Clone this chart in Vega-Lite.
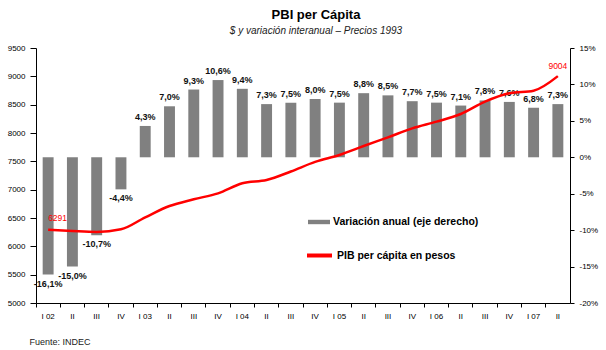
{
  "$schema": "https://vega.github.io/schema/vega-lite/v6.json",
  "autosize": {"type": "none"},
  "padding": {"left": 36, "top": 48, "right": 36, "bottom": 47},
  "width": 534,
  "height": 255,
  "background": "white",
  "title": {
    "text": "PBI per Cápita",
    "subtitle": "$ y variación interanual – Precios 1993",
    "font": "Liberation Sans",
    "fontSize": 13,
    "fontWeight": "bold",
    "color": "black",
    "subtitleFont": "Liberation Sans",
    "subtitleFontSize": 10,
    "subtitleFontStyle": "italic",
    "subtitleColor": "#222222",
    "subtitlePadding": 4,
    "anchor": "middle",
    "dx": 13,
    "offset": 8
  },
  "data": {
    "values": [
      {"t": "I 02", "v": -16.1, "lab": "-16,1%", "pib": 6291},
      {"t": "II 02", "v": -15.0, "lab": "-15,0%", "pib": 6270},
      {"t": "III 02", "v": -10.7, "lab": "-10,7%", "pib": 6255},
      {"t": "IV 02", "v": -4.4, "lab": "-4,4%", "pib": 6300},
      {"t": "I 03", "v": 4.3, "lab": "4,3%", "pib": 6512},
      {"t": "II 03", "v": 7.0, "lab": "7,0%", "pib": 6712},
      {"t": "III 03", "v": 9.3, "lab": "9,3%", "pib": 6830},
      {"t": "IV 03", "v": 10.6, "lab": "10,6%", "pib": 6935},
      {"t": "I 04", "v": 9.4, "lab": "9,4%", "pib": 7112},
      {"t": "II 04", "v": 7.3, "lab": "7,3%", "pib": 7170},
      {"t": "III 04", "v": 7.5, "lab": "7,5%", "pib": 7320},
      {"t": "IV 04", "v": 8.0, "lab": "8,0%", "pib": 7490},
      {"t": "I 05", "v": 7.5, "lab": "7,5%", "pib": 7612},
      {"t": "II 05", "v": 8.8, "lab": "8,8%", "pib": 7770},
      {"t": "III 05", "v": 8.5, "lab": "8,5%", "pib": 7924},
      {"t": "IV 05", "v": 7.7, "lab": "7,7%", "pib": 8082},
      {"t": "I 06", "v": 7.5, "lab": "7,5%", "pib": 8200},
      {"t": "II 06", "v": 7.1, "lab": "7,1%", "pib": 8335},
      {"t": "III 06", "v": 7.8, "lab": "7,8%", "pib": 8553},
      {"t": "IV 06", "v": 7.6, "lab": "7,6%", "pib": 8700},
      {"t": "I 07", "v": 6.8, "lab": "6,8%", "pib": 8747},
      {"t": "II 07", "v": 7.3, "lab": "7,3%", "pib": 9004}
    ]
  },
  "encoding": {
    "x": {
      "field": "t",
      "type": "ordinal",
      "sort": null,
      "scale": {"paddingInner": 0, "paddingOuter": 0},
      "axis": {
        "title": "Fuente: INDEC",
        "titleAnchor": "start",
        "titleAlign": "left",
        "titleBaseline": "alphabetic",
        "titleX": -7,
        "titleY": 41,
        "titleFontSize": 9,
        "titleFontWeight": "normal",
        "titleColor": "#222222",
        "titleFont": "Liberation Sans",
        "labelExpr": "indexof(datum.value, 'I ') == 0 ? datum.value : split(datum.value, ' ')[0]",
        "labelAngle": 0,
        "labelFontSize": 8,
        "labelFont": "Liberation Sans",
        "labelColor": "black",
        "labelPadding": 5,
        "labelFlush": false,
        "labelOverlap": false,
        "bandPosition": 0,
        "tickSize": 4,
        "tickColor": "black",
        "domainColor": "black",
        "grid": false
      }
    }
  },
  "layer": [
    {
      "encoding": {
        "y": {
          "field": "v",
          "type": "quantitative",
          "title": null,
          "scale": {"domain": [-20, 15], "nice": false},
          "axis": {
            "orient": "right",
            "values": [-20, -15, -10, -5, 0, 5, 10, 15],
            "labelExpr": "datum.value + '%'",
            "labelFontSize": 8,
            "labelFont": "Liberation Sans",
            "labelColor": "black",
            "labelPadding": 5,
            "labelOverlap": false,
            "labelFlush": false,
            "tickSize": 4,
            "tickColor": "black",
            "domainColor": "black",
            "grid": false
          }
        }
      },
      "layer": [
        {
          "mark": {"type": "bar", "width": {"band": 0.45}},
          "encoding": {
            "color": {
              "datum": "Variación anual (eje derecho)",
              "type": "nominal",
              "scale": {"range": ["#808080"]},
              "legend": {
                "title": null,
                "orient": "none",
                "legendX": 272,
                "legendY": 163,
                "padding": 0,
                "symbolType": "M-1,-0.2H1V0.2H-1Z",
                "symbolSize": 484,
                "symbolStrokeWidth": 0,
                "labelOffset": 3,
                "labelFont": "Liberation Sans",
                "labelFontSize": 10.5,
                "labelFontWeight": "bold",
                "labelColor": "black",
                "labelLimit": 300
              }
            }
          }
        },
        {
          "transform": [{"filter": "datum.v >= 0"}],
          "mark": {"type": "text", "baseline": "bottom", "dy": -4, "font": "Liberation Sans", "fontSize": 9, "fontWeight": "bold", "color": "#111111"},
          "encoding": {
            "text": {"field": "lab"}
          }
        },
        {
          "transform": [{"filter": "datum.v < 0"}],
          "mark": {"type": "text", "baseline": "top", "dy": 5, "font": "Liberation Sans", "fontSize": 9, "fontWeight": "bold", "color": "#111111"},
          "encoding": {
            "text": {"field": "lab"}
          }
        }
      ]
    },
    {
      "encoding": {
        "y": {
          "field": "pib",
          "type": "quantitative",
          "title": null,
          "scale": {"domain": [5000, 9500], "nice": false, "zero": false},
          "axis": {
            "orient": "left",
            "values": [5000, 5500, 6000, 6500, 7000, 7500, 8000, 8500, 9000, 9500],
            "format": "d",
            "labelFontSize": 8,
            "labelFont": "Liberation Sans",
            "labelColor": "black",
            "labelPadding": 5,
            "labelOverlap": false,
            "labelFlush": false,
            "tickSize": 6,
            "tickColor": "black",
            "domainColor": "black",
            "grid": false
          }
        }
      },
      "layer": [
        {
          "mark": {"type": "line", "strokeWidth": 2.5, "interpolate": "monotone"},
          "encoding": {
            "stroke": {
              "datum": "PIB per cápita en pesos",
              "type": "nominal",
              "scale": {"range": ["#ff0000"]},
              "legend": {
                "title": null,
                "orient": "none",
                "legendX": 269,
                "legendY": 193,
                "padding": 0,
                "symbolType": "stroke",
                "symbolSize": 625,
                "symbolStrokeWidth": 4,
                "labelOffset": 3,
                "labelFont": "Liberation Sans",
                "labelFontSize": 10.5,
                "labelFontWeight": "bold",
                "labelColor": "black",
                "labelLimit": 300
              }
            }
          }
        },
        {
          "transform": [{"filter": "datum.t == 'I 02'"}],
          "mark": {"type": "text", "align": "left", "baseline": "middle", "dy": -12, "font": "Liberation Sans", "fontSize": 8.5, "color": "#ff0000"},
          "encoding": {
            "text": {"field": "pib", "format": "d"}
          }
        },
        {
          "transform": [{"filter": "datum.t == 'II 07'"}],
          "mark": {"type": "text", "align": "center", "baseline": "middle", "dy": -10, "font": "Liberation Sans", "fontSize": 8.5, "color": "#ff0000"},
          "encoding": {
            "text": {"field": "pib", "format": "d"}
          }
        }
      ]
    }
  ],
  "resolve": {"scale": {"y": "independent"}},
  "config": {
    "view": {"stroke": null},
    "font": "Liberation Sans"
  }
}
